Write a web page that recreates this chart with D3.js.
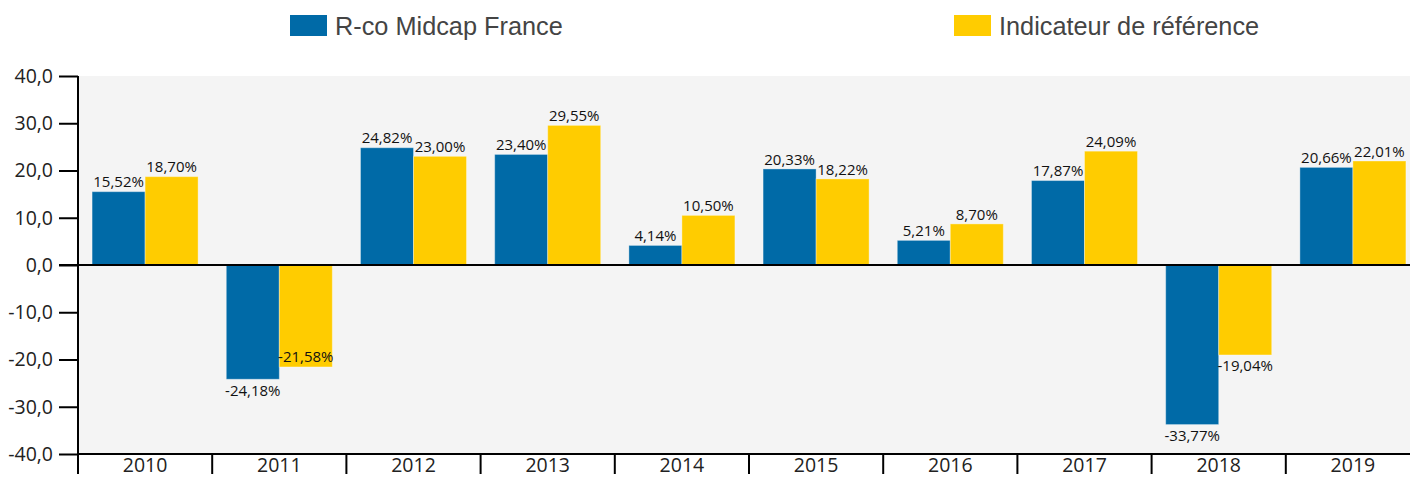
<!DOCTYPE html>
<html>
<head>
<meta charset="utf-8">
<script src="https://cdn.jsdelivr.net/npm/d3@7"></script>
<style>
  body { margin: 0; background: #fff; }
  svg { display: block; }
</style>
</head>
<body>
<script>
// Data
var years = ["2010", "2011", "2012", "2013", "2014", "2015", "2016", "2017", "2018", "2019"];
var seriesNames = ["R-co Midcap France", "Indicateur de référence"];
var fund = [15.52, -24.18, 24.82, 23.40, 4.14, 20.33, 5.21, 17.87, -33.77, 20.66];
var bench = [18.70, -21.58, 23.00, 29.55, 10.50, 18.22, 8.70, 24.09, -19.04, 22.01];
var yTicks = [-40, -30, -20, -10, 0, 10, 20, 30, 40];

var colors = ["#006aa7", "#ffcc00"];

var W = 1410, H = 477;
var margin = {left: 78, top: 76, bottom: 23, right: -10};
var plotW = W - margin.left - margin.right,
    plotH = H - margin.top - margin.bottom;

var fr = d3.formatLocale({decimal: ",", thousands: " ", grouping: [3], currency: ["", "€"], minus: "-"});
var fmtTick = fr.format(".1f");
var fmtVal = fr.format(".2f");

var svg = d3.select("body").append("svg")
    .attr("width", W)
    .attr("height", H);

// Legend
var legendX = [290, 954];
var legend = svg.selectAll(".legend")
    .data(seriesNames)
    .enter().append("g")
    .attr("class", "legend")
    .attr("transform", function(d, i) { return "translate(" + legendX[i] + ",15)"; });
legend.append("rect")
    .attr("width", 37).attr("height", 21)
    .attr("fill", function(d, i) { return colors[i]; });
legend.append("text")
    .attr("x", 45).attr("y", 19.5)
    .attr("font-family", "'Liberation Sans', Arial, sans-serif")
    .attr("font-size", "25.3px")
    .attr("fill", "#444")
    .text(function(d) { return d; });

var g = svg.append("g")
    .attr("transform", "translate(" + margin.left + "," + margin.top + ")");

var x0 = d3.scaleBand()
    .domain(years)
    .range([0, plotW])
    .paddingInner(0.21)
    .paddingOuter(0.105);

var x1 = d3.scaleBand()
    .domain([0, 1])
    .range([0, x0.bandwidth()]);

var y = d3.scaleLinear()
    .domain([-40, 40])
    .range([plotH, 0]);

// background
g.append("rect")
    .attr("width", plotW).attr("height", plotH)
    .attr("fill", "#f4f4f4");

// bars
var rows = years.map(function(yr, i) { return {year: yr, vals: [fund[i], bench[i]]}; });

var groups = g.selectAll(".year")
    .data(rows)
    .enter().append("g")
    .attr("class", "year")
    .attr("transform", function(d) { return "translate(" + x0(d.year) + ",0)"; });

groups.selectAll("rect")
    .data(function(d) { return d.vals.map(function(v, k) { return {k: k, v: v}; }); })
    .enter().append("rect")
    .attr("x", function(d) { return x1(d.k); })
    .attr("width", x1.bandwidth())
    .attr("y", function(d) { return y(Math.max(0, d.v)); })
    .attr("height", function(d) { return Math.abs(y(d.v) - y(0)); })
    .attr("fill", function(d) { return colors[d.k]; })
    .attr("stroke", "#fff")
    .attr("stroke-opacity", 0.35)
    .attr("stroke-width", 1);

// value labels (simple collision check for negative pairs)
var labH = 15;
var labels = [];
rows.forEach(function(r) {
    r.vals.forEach(function(v, k) {
        var cx = x0(r.year) + x1(k) + x1.bandwidth() / 2;
        var cy = v >= 0 ? y(v) - 9.5 : y(v) + 11;
        labels.push({cx: cx, cy: cy, v: v, k: k, w: 58});
    });
});
for (var i = 1; i < labels.length; i += 2) {
    var a = labels[i - 1], b = labels[i];
    if (a.v < 0 && b.v < 0 &&
        Math.abs(a.cx - b.cx) < (a.w + b.w) / 2 && Math.abs(a.cy - b.cy) < labH) {
        b.cy = y(b.v) - 10;
    }
}
g.selectAll(".val")
    .data(labels)
    .enter().append("text")
    .attr("class", "val")
    .attr("x", function(d) { return d.cx; })
    .attr("y", function(d) { return d.cy; })
    .attr("dy", "0.35em")
    .attr("text-anchor", "middle")
    .attr("font-family", "'Open Sans', sans-serif")
    .attr("font-size", "15px")
    .attr("fill", "#111")
    .text(function(d) { return fmtVal(d.v) + "%"; });

// y axis
var yAxis = g.append("g")
    .call(d3.axisLeft(y).tickValues(yTicks).tickFormat(fmtTick).tickSize(19).tickPadding(6));
yAxis.select(".domain").attr("stroke-width", 2).attr("d", "M0," + y(40) + "V" + y(-40));
yAxis.selectAll(".tick line").attr("stroke-width", 2);
yAxis.selectAll("text")
    .attr("font-family", "'Open Sans', sans-serif")
    .attr("font-size", "19.5px")
    .attr("fill", "#222");

// zero line
g.append("line")
    .attr("x1", -19).attr("x2", plotW)
    .attr("y1", y(0)).attr("y2", y(0))
    .attr("stroke", "#000").attr("stroke-width", 2);

// x axis
var xAxis = g.append("g")
    .attr("transform", "translate(0," + plotH + ")")
    .call(d3.axisBottom(x0).tickSize(0).tickPadding(4));
xAxis.select(".domain").attr("stroke-width", 2).attr("d", "M0,0H" + plotW);
xAxis.selectAll("text")
    .attr("font-family", "'Open Sans', sans-serif")
    .attr("font-size", "19.5px")
    .attr("fill", "#222");
xAxis.selectAll(".sep")
    .data(years)
    .enter().append("line")
    .attr("class", "sep")
    .attr("x1", function(d) { return x0(d) - x0.step() * 0.105; })
    .attr("x2", function(d) { return x0(d) - x0.step() * 0.105; })
    .attr("y1", 0).attr("y2", 20)
    .attr("stroke", "#000").attr("stroke-width", 2);
</script>
</body>
</html>
